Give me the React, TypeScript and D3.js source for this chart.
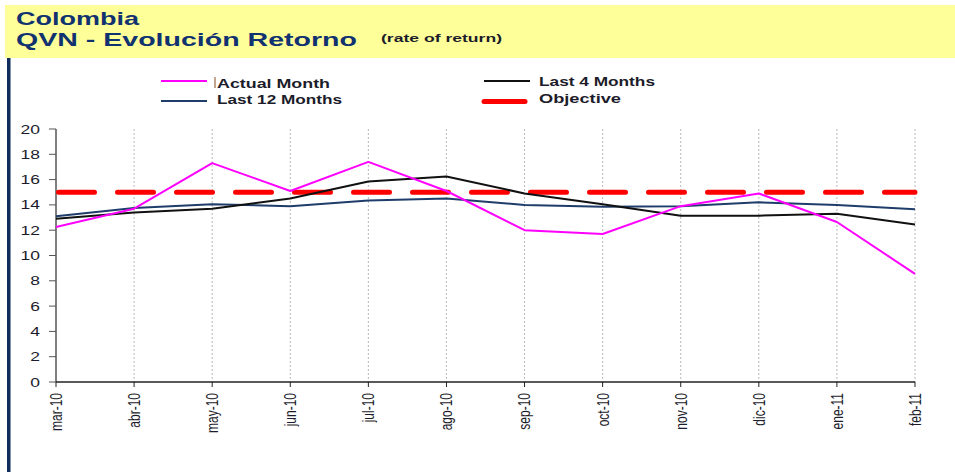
import React, { useEffect, useRef } from 'react';
import * as d3 from 'd3';

const months = ['mar-10', 'abr-10', 'may-10', 'jun-10', 'jul-10', 'ago-10', 'sep-10', 'oct-10', 'nov-10', 'dic-10', 'ene-11', 'feb-11'];
const actualMonth = [12.25, 13.7, 17.3, 15.1, 17.4, 15.1, 12.0, 11.7, 13.9, 14.9, 12.65, 8.55];
const last4Months = [12.9, 13.4, 13.7, 14.5, 15.85, 16.25, 14.9, 14.05, 13.15, 13.15, 13.3, 12.45];
const last12Months = [13.1, 13.75, 14.05, 13.9, 14.35, 14.5, 14.0, 13.85, 13.9, 14.2, 14.0, 13.65];
const objective = 15;
const yTicks = [0, 2, 4, 6, 8, 10, 12, 14, 16, 18, 20];

const App: React.FC = () => {
  const svgRef = useRef<SVGSVGElement>(null);

  useEffect(() => {
    if (!svgRef.current) return;
    const svg = d3.select(svgRef.current);
    svg.selectAll('*').remove();

    const W = 955;
    const H = 472;
    const sx = 1.4; // the picture is stretched sideways
    const navy = '#0d2c5c';
    const textCol = '#1c1c2a';

    svg.attr('width', W).attr('height', H);
    svg.append('rect').attr('width', W).attr('height', H).attr('fill', '#fff');

    // header band
    svg.append('rect')
      .attr('x', 5).attr('y', 5).attr('width', W - 5).attr('height', 53)
      .attr('fill', '#ffff99');
    svg.append('rect')
      .attr('x', 7).attr('y', 58).attr('width', 3.5).attr('height', H - 58)
      .attr('fill', navy);

    const stretchText = (x: number, y: number, txt: string, len: number, size: number, color: string) =>
      svg.append('text')
        .attr('x', x).attr('y', y)
        .attr('textLength', len)
        .attr('lengthAdjust', 'spacingAndGlyphs')
        .style('font-family', 'Arial, "Liberation Sans", sans-serif')
        .style('font-weight', 'bold')
        .style('font-size', `${size}px`)
        .style('fill', color)
        .text(txt);

    stretchText(16, 25, 'Colombia', 123, 18.5, '#113270');
    stretchText(16, 46, 'QVN - Evolución Retorno', 341, 18.5, '#113270');
    stretchText(381, 42, '(rate of return)', 121, 11, textCol);

    // scales
    const x = d3.scalePoint<string>().domain(months).range([56, 915]);
    const y = d3.scaleLinear().domain([0, 20]).range([382, 129]);

    // grid
    svg.append('g')
      .selectAll('line')
      .data(months.slice(1))
      .enter()
      .append('line')
      .attr('x1', d => x(d)!).attr('x2', d => x(d)!)
      .attr('y1', y(20)).attr('y2', y(0))
      .attr('stroke', '#b8b8b8')
      .attr('stroke-width', 1)
      .attr('stroke-dasharray', '2 2');

    // y axis
    const yAxis = svg.append('g');
    yAxis.append('line')
      .attr('x1', 56).attr('x2', 56).attr('y1', y(20)).attr('y2', y(0))
      .attr('stroke', '#555').attr('stroke-width', 1.5);
    yAxis.selectAll('line.tick')
      .data(yTicks)
      .enter()
      .append('line')
      .attr('class', 'tick')
      .attr('x1', 49).attr('x2', 56)
      .attr('y1', d => y(d)).attr('y2', d => y(d))
      .attr('stroke', '#555').attr('stroke-width', 1);
    yAxis.selectAll('text')
      .data(yTicks)
      .enter()
      .append('text')
      .attr('transform', d => `translate(40,${y(d)}) scale(${sx},1)`)
      .attr('dy', '0.36em')
      .attr('text-anchor', 'end')
      .style('font-family', 'Arial, "Liberation Sans", sans-serif')
      .style('font-size', '12.5px')
      .style('fill', textCol)
      .text(d => d);

    // x axis
    const xAxis = svg.append('g');
    xAxis.append('line')
      .attr('x1', 56).attr('x2', 915).attr('y1', y(0)).attr('y2', y(0))
      .attr('stroke', '#222').attr('stroke-width', 1.5);
    xAxis.selectAll('line.tick')
      .data(months)
      .enter()
      .append('line')
      .attr('class', 'tick')
      .attr('x1', d => x(d)!).attr('x2', d => x(d)!)
      .attr('y1', y(0)).attr('y2', y(0) + 5)
      .attr('stroke', '#222').attr('stroke-width', 1);
    xAxis.selectAll('text')
      .data(months)
      .enter()
      .append('text')
      .attr('transform', d => `translate(${x(d)},393) scale(${sx},1) rotate(-90)`)
      .attr('dy', '0.35em')
      .attr('text-anchor', 'end')
      .style('font-family', 'Arial, "Liberation Sans", sans-serif')
      .style('font-size', '12px')
      .style('fill', textCol)
      .text(d => d);

    // objective
    svg.append('line')
      .attr('x1', x(months[0])! + 2.5).attr('x2', x(months[months.length - 1])!)
      .attr('y1', y(objective)).attr('y2', y(objective))
      .attr('stroke', '#ff0000')
      .attr('stroke-width', 5)
      .attr('stroke-linecap', 'round')
      .attr('stroke-dasharray', '36 23');

    const line = d3.line<number>()
      .x((_, i) => x(months[i])!)
      .y(d => y(d));

    const series = [
      { values: last12Months, color: '#1f3d6b' },
      { values: last4Months, color: '#111111' },
      { values: actualMonth, color: '#ff00ff' },
    ];
    svg.append('g')
      .selectAll('path')
      .data(series)
      .enter()
      .append('path')
      .attr('d', d => line(d.values))
      .attr('fill', 'none')
      .attr('stroke', d => d.color)
      .attr('stroke-width', 2)
      .attr('stroke-linejoin', 'round');

    // legend
    const legendData = [
      { x: 161, ly: 81, ty: 87.5, w: 46, color: '#ff00ff', sw: 2, text: 'Actual Month', tx: 217, len: 113 },
      { x: 161, ly: 101, ty: 104, w: 46, color: '#1f3d6b', sw: 2, text: 'Last 12 Months', tx: 217, len: 125 },
      { x: 484, ly: 81, ty: 86, w: 46, color: '#111111', sw: 2, text: 'Last 4 Months', tx: 539, len: 116 },
      { x: 484, ly: 101.5, ty: 102.5, w: 41, color: '#ff0000', sw: 5, text: 'Objective', tx: 539, len: 82 },
    ];
    const legend = svg.append('g');
    legendData.forEach(d => {
      legend.append('line')
        .attr('x1', d.x).attr('x2', d.x + d.w)
        .attr('y1', d.ly).attr('y2', d.ly)
        .attr('stroke', d.color)
        .attr('stroke-width', d.sw)
        .attr('stroke-linecap', d.sw > 3 ? 'round' : 'butt');
      stretchText(d.tx, d.ty, d.text, d.len, 13, textCol);
    });
    // the little cursor mark in front of "Actual Month"
    legend.append('line')
      .attr('x1', 215).attr('x2', 215).attr('y1', 77).attr('y2', 88)
      .attr('stroke', '#8a4a1a').attr('stroke-width', 1);
  }, []);

  return (
    <div style={{ position: 'absolute', left: 0, top: 0 }}>
      <svg ref={svgRef} style={{ display: 'block' }} />
    </div>
  );
};

export default App;
